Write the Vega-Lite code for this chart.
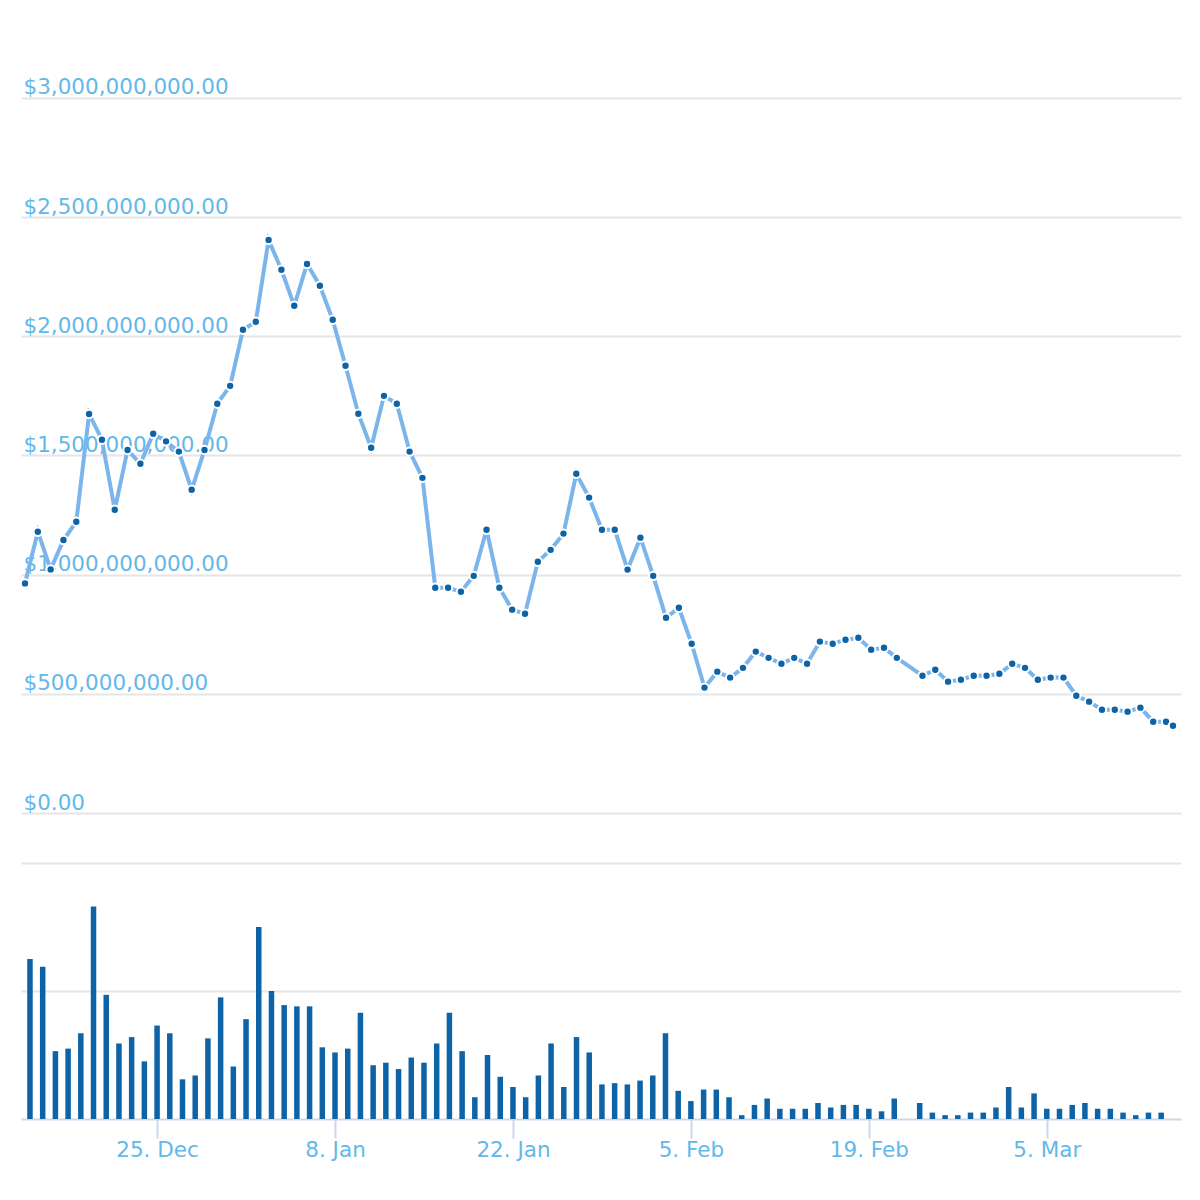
{
  "$schema": "https://vega.github.io/schema/vega-lite/v6.json",
  "description": "Market cap line with daily volume bars underneath, Dec 2017 to Mar 2018.",
  "background": "white",
  "padding": {"left": 16, "top": 13, "right": 20, "bottom": 0},
  "spacing": 49,
  "config": {
    "view": {"stroke": null},
    "axis": {
      "labelFont": "DejaVu Sans",
      "labelColor": "#62b8ea",
      "labelFontSize": 21.5,
      "labelLimit": 0,
      "gridColor": "#e6e6e6",
      "gridWidth": 2,
      "title": null
    }
  },
  "datasets": {
    "cap": [
      {"date": "2017-12-15T00:00:00Z", "cap": 963000000},
      {"date": "2017-12-16T00:00:00Z", "cap": 1180000000},
      {"date": "2017-12-17T00:00:00Z", "cap": 1022000000},
      {"date": "2017-12-18T00:00:00Z", "cap": 1145000000},
      {"date": "2017-12-19T00:00:00Z", "cap": 1222000000},
      {"date": "2017-12-20T00:00:00Z", "cap": 1674000000},
      {"date": "2017-12-21T00:00:00Z", "cap": 1566000000},
      {"date": "2017-12-22T00:00:00Z", "cap": 1272000000},
      {"date": "2017-12-23T00:00:00Z", "cap": 1523000000},
      {"date": "2017-12-24T00:00:00Z", "cap": 1465000000},
      {"date": "2017-12-25T00:00:00Z", "cap": 1591000000},
      {"date": "2017-12-26T00:00:00Z", "cap": 1559000000},
      {"date": "2017-12-27T00:00:00Z", "cap": 1516000000},
      {"date": "2017-12-28T00:00:00Z", "cap": 1356000000},
      {"date": "2017-12-29T00:00:00Z", "cap": 1523000000},
      {"date": "2017-12-30T00:00:00Z", "cap": 1717000000},
      {"date": "2017-12-31T00:00:00Z", "cap": 1792000000},
      {"date": "2018-01-01T00:00:00Z", "cap": 2027000000},
      {"date": "2018-01-02T00:00:00Z", "cap": 2061000000},
      {"date": "2018-01-03T00:00:00Z", "cap": 2404000000},
      {"date": "2018-01-04T00:00:00Z", "cap": 2279000000},
      {"date": "2018-01-05T00:00:00Z", "cap": 2128000000},
      {"date": "2018-01-06T00:00:00Z", "cap": 2303000000},
      {"date": "2018-01-07T00:00:00Z", "cap": 2212000000},
      {"date": "2018-01-08T00:00:00Z", "cap": 2069000000},
      {"date": "2018-01-09T00:00:00Z", "cap": 1876000000},
      {"date": "2018-01-10T00:00:00Z", "cap": 1675000000},
      {"date": "2018-01-11T00:00:00Z", "cap": 1532000000},
      {"date": "2018-01-12T00:00:00Z", "cap": 1750000000},
      {"date": "2018-01-13T00:00:00Z", "cap": 1717000000},
      {"date": "2018-01-14T00:00:00Z", "cap": 1516000000},
      {"date": "2018-01-15T00:00:00Z", "cap": 1406000000},
      {"date": "2018-01-16T00:00:00Z", "cap": 945000000},
      {"date": "2018-01-17T00:00:00Z", "cap": 945000000},
      {"date": "2018-01-18T00:00:00Z", "cap": 928000000},
      {"date": "2018-01-19T00:00:00Z", "cap": 995000000},
      {"date": "2018-01-20T00:00:00Z", "cap": 1188000000},
      {"date": "2018-01-21T00:00:00Z", "cap": 945000000},
      {"date": "2018-01-22T00:00:00Z", "cap": 853000000},
      {"date": "2018-01-23T00:00:00Z", "cap": 836000000},
      {"date": "2018-01-24T00:00:00Z", "cap": 1054000000},
      {"date": "2018-01-25T00:00:00Z", "cap": 1104000000},
      {"date": "2018-01-26T00:00:00Z", "cap": 1172000000},
      {"date": "2018-01-27T00:00:00Z", "cap": 1423000000},
      {"date": "2018-01-28T00:00:00Z", "cap": 1323000000},
      {"date": "2018-01-29T00:00:00Z", "cap": 1188000000},
      {"date": "2018-01-30T00:00:00Z", "cap": 1188000000},
      {"date": "2018-01-31T00:00:00Z", "cap": 1021000000},
      {"date": "2018-02-01T00:00:00Z", "cap": 1155000000},
      {"date": "2018-02-02T00:00:00Z", "cap": 995000000},
      {"date": "2018-02-03T00:00:00Z", "cap": 819000000},
      {"date": "2018-02-04T00:00:00Z", "cap": 861000000},
      {"date": "2018-02-05T00:00:00Z", "cap": 710000000},
      {"date": "2018-02-06T00:00:00Z", "cap": 526000000},
      {"date": "2018-02-07T00:00:00Z", "cap": 593000000},
      {"date": "2018-02-08T00:00:00Z", "cap": 568000000},
      {"date": "2018-02-09T00:00:00Z", "cap": 609000000},
      {"date": "2018-02-10T00:00:00Z", "cap": 677000000},
      {"date": "2018-02-11T00:00:00Z", "cap": 651000000},
      {"date": "2018-02-12T00:00:00Z", "cap": 626000000},
      {"date": "2018-02-13T00:00:00Z", "cap": 651000000},
      {"date": "2018-02-14T00:00:00Z", "cap": 626000000},
      {"date": "2018-02-15T00:00:00Z", "cap": 719000000},
      {"date": "2018-02-16T00:00:00Z", "cap": 710000000},
      {"date": "2018-02-17T00:00:00Z", "cap": 727000000},
      {"date": "2018-02-18T00:00:00Z", "cap": 735000000},
      {"date": "2018-02-19T00:00:00Z", "cap": 685000000},
      {"date": "2018-02-20T00:00:00Z", "cap": 693000000},
      {"date": "2018-02-21T00:00:00Z", "cap": 651000000},
      {"date": "2018-02-23T00:00:00Z", "cap": 576000000},
      {"date": "2018-02-24T00:00:00Z", "cap": 601000000},
      {"date": "2018-02-25T00:00:00Z", "cap": 551000000},
      {"date": "2018-02-26T00:00:00Z", "cap": 559000000},
      {"date": "2018-02-27T00:00:00Z", "cap": 576000000},
      {"date": "2018-02-28T00:00:00Z", "cap": 576000000},
      {"date": "2018-03-01T00:00:00Z", "cap": 584000000},
      {"date": "2018-03-02T00:00:00Z", "cap": 626000000},
      {"date": "2018-03-03T00:00:00Z", "cap": 609000000},
      {"date": "2018-03-04T00:00:00Z", "cap": 559000000},
      {"date": "2018-03-05T00:00:00Z", "cap": 568000000},
      {"date": "2018-03-06T00:00:00Z", "cap": 568000000},
      {"date": "2018-03-07T00:00:00Z", "cap": 492000000},
      {"date": "2018-03-08T00:00:00Z", "cap": 467000000},
      {"date": "2018-03-09T00:00:00Z", "cap": 433000000},
      {"date": "2018-03-10T00:00:00Z", "cap": 433000000},
      {"date": "2018-03-11T00:00:00Z", "cap": 425000000},
      {"date": "2018-03-12T00:00:00Z", "cap": 442000000},
      {"date": "2018-03-13T00:00:00Z", "cap": 383000000},
      {"date": "2018-03-14T00:00:00Z", "cap": 383000000},
      {"date": "2018-03-14T13:00:00Z", "cap": 366000000}
    ],
    "volume": [
      {"date": "2017-12-15T00:00:00Z", "vol": 125},
      {"date": "2017-12-16T00:00:00Z", "vol": 119},
      {"date": "2017-12-17T00:00:00Z", "vol": 53},
      {"date": "2017-12-18T00:00:00Z", "vol": 55},
      {"date": "2017-12-19T00:00:00Z", "vol": 67},
      {"date": "2017-12-20T00:00:00Z", "vol": 166},
      {"date": "2017-12-21T00:00:00Z", "vol": 97},
      {"date": "2017-12-22T00:00:00Z", "vol": 59},
      {"date": "2017-12-23T00:00:00Z", "vol": 64},
      {"date": "2017-12-24T00:00:00Z", "vol": 45},
      {"date": "2017-12-25T00:00:00Z", "vol": 73},
      {"date": "2017-12-26T00:00:00Z", "vol": 67},
      {"date": "2017-12-27T00:00:00Z", "vol": 31},
      {"date": "2017-12-28T00:00:00Z", "vol": 34},
      {"date": "2017-12-29T00:00:00Z", "vol": 63},
      {"date": "2017-12-30T00:00:00Z", "vol": 95},
      {"date": "2017-12-31T00:00:00Z", "vol": 41},
      {"date": "2018-01-01T00:00:00Z", "vol": 78},
      {"date": "2018-01-02T00:00:00Z", "vol": 150},
      {"date": "2018-01-03T00:00:00Z", "vol": 100},
      {"date": "2018-01-04T00:00:00Z", "vol": 89},
      {"date": "2018-01-05T00:00:00Z", "vol": 88},
      {"date": "2018-01-06T00:00:00Z", "vol": 88},
      {"date": "2018-01-07T00:00:00Z", "vol": 56},
      {"date": "2018-01-08T00:00:00Z", "vol": 52},
      {"date": "2018-01-09T00:00:00Z", "vol": 55},
      {"date": "2018-01-10T00:00:00Z", "vol": 83},
      {"date": "2018-01-11T00:00:00Z", "vol": 42},
      {"date": "2018-01-12T00:00:00Z", "vol": 44},
      {"date": "2018-01-13T00:00:00Z", "vol": 39},
      {"date": "2018-01-14T00:00:00Z", "vol": 48},
      {"date": "2018-01-15T00:00:00Z", "vol": 44},
      {"date": "2018-01-16T00:00:00Z", "vol": 59},
      {"date": "2018-01-17T00:00:00Z", "vol": 83},
      {"date": "2018-01-18T00:00:00Z", "vol": 53},
      {"date": "2018-01-19T00:00:00Z", "vol": 17},
      {"date": "2018-01-20T00:00:00Z", "vol": 50},
      {"date": "2018-01-21T00:00:00Z", "vol": 33},
      {"date": "2018-01-22T00:00:00Z", "vol": 25},
      {"date": "2018-01-23T00:00:00Z", "vol": 17},
      {"date": "2018-01-24T00:00:00Z", "vol": 34},
      {"date": "2018-01-25T00:00:00Z", "vol": 59},
      {"date": "2018-01-26T00:00:00Z", "vol": 25},
      {"date": "2018-01-27T00:00:00Z", "vol": 64},
      {"date": "2018-01-28T00:00:00Z", "vol": 52},
      {"date": "2018-01-29T00:00:00Z", "vol": 27},
      {"date": "2018-01-30T00:00:00Z", "vol": 28},
      {"date": "2018-01-31T00:00:00Z", "vol": 27},
      {"date": "2018-02-01T00:00:00Z", "vol": 30},
      {"date": "2018-02-02T00:00:00Z", "vol": 34},
      {"date": "2018-02-03T00:00:00Z", "vol": 67},
      {"date": "2018-02-04T00:00:00Z", "vol": 22},
      {"date": "2018-02-05T00:00:00Z", "vol": 14},
      {"date": "2018-02-06T00:00:00Z", "vol": 23},
      {"date": "2018-02-07T00:00:00Z", "vol": 23},
      {"date": "2018-02-08T00:00:00Z", "vol": 17},
      {"date": "2018-02-09T00:00:00Z", "vol": 3},
      {"date": "2018-02-10T00:00:00Z", "vol": 11},
      {"date": "2018-02-11T00:00:00Z", "vol": 16},
      {"date": "2018-02-12T00:00:00Z", "vol": 8},
      {"date": "2018-02-13T00:00:00Z", "vol": 8},
      {"date": "2018-02-14T00:00:00Z", "vol": 8},
      {"date": "2018-02-15T00:00:00Z", "vol": 12.5},
      {"date": "2018-02-16T00:00:00Z", "vol": 9},
      {"date": "2018-02-17T00:00:00Z", "vol": 11},
      {"date": "2018-02-18T00:00:00Z", "vol": 11},
      {"date": "2018-02-19T00:00:00Z", "vol": 8},
      {"date": "2018-02-20T00:00:00Z", "vol": 6},
      {"date": "2018-02-21T00:00:00Z", "vol": 16},
      {"date": "2018-02-23T00:00:00Z", "vol": 12.5},
      {"date": "2018-02-24T00:00:00Z", "vol": 5},
      {"date": "2018-02-25T00:00:00Z", "vol": 3},
      {"date": "2018-02-26T00:00:00Z", "vol": 3},
      {"date": "2018-02-27T00:00:00Z", "vol": 5},
      {"date": "2018-02-28T00:00:00Z", "vol": 5},
      {"date": "2018-03-01T00:00:00Z", "vol": 9},
      {"date": "2018-03-02T00:00:00Z", "vol": 25},
      {"date": "2018-03-03T00:00:00Z", "vol": 9},
      {"date": "2018-03-04T00:00:00Z", "vol": 20},
      {"date": "2018-03-05T00:00:00Z", "vol": 8},
      {"date": "2018-03-06T00:00:00Z", "vol": 8},
      {"date": "2018-03-07T00:00:00Z", "vol": 11},
      {"date": "2018-03-08T00:00:00Z", "vol": 12.5},
      {"date": "2018-03-09T00:00:00Z", "vol": 8},
      {"date": "2018-03-10T00:00:00Z", "vol": 8},
      {"date": "2018-03-11T00:00:00Z", "vol": 5},
      {"date": "2018-03-12T00:00:00Z", "vol": 3},
      {"date": "2018-03-13T00:00:00Z", "vol": 5},
      {"date": "2018-03-14T00:00:00Z", "vol": 5}
    ]
  },
  "vconcat": [
    {
      "width": 1160,
      "height": 800,
      "data": {"name": "cap"},
      "encoding": {
        "x": {
          "field": "date",
          "type": "temporal",
          "scale": {
            "type": "utc",
            "domain": [
              {"year": 2017, "month": 12, "date": 14, "hours": 16, "minutes": 30, "utc": true},
              {"year": 2018, "month": 3, "date": 15, "hours": 4, "utc": true}
            ]
          },
          "axis": null
        },
        "y": {
          "field": "cap",
          "type": "quantitative",
          "scale": {"domain": [0, 3356000000], "nice": false},
          "axis": {
            "values": [0, 500000000, 1000000000, 1500000000, 2000000000, 2500000000, 3000000000],
            "format": "$,.2f",
            "grid": true,
            "domain": false,
            "ticks": false,
            "labelAlign": "left",
            "labelPadding": -2,
            "labelBaseline": "alphabetic",
            "labelOffset": -4,
            "labelFlush": false,
            "labelOverlap": false
          }
        }
      },
      "layer": [
        {
          "mark": {"type": "line", "color": "#7cb5ec", "strokeWidth": 4}
        },
        {
          "mark": {
            "type": "point",
            "filled": true,
            "fill": "#0d63a5",
            "stroke": "white",
            "strokeWidth": 2,
            "size": 70,
            "opacity": 1
          }
        }
      ]
    },
    {
      "width": 1160,
      "height": 256,
      "data": {"name": "volume"},
      "mark": {"type": "bar", "color": "#0d63a5", "width": 5.5},
      "encoding": {
        "x": {
          "field": "date",
          "type": "temporal",
          "scale": {
            "type": "utc",
            "domain": [
              {"year": 2017, "month": 12, "date": 14, "hours": 16, "minutes": 30, "utc": true},
              {"year": 2018, "month": 3, "date": 15, "hours": 4, "utc": true}
            ]
          },
          "axis": {
            "values": [
              {"year": 2017, "month": 12, "date": 25, "utc": true},
              {"year": 2018, "month": 1, "date": 8, "utc": true},
              {"year": 2018, "month": 1, "date": 22, "utc": true},
              {"year": 2018, "month": 2, "date": 5, "utc": true},
              {"year": 2018, "month": 2, "date": 19, "utc": true},
              {"year": 2018, "month": 3, "date": 5, "utc": true}
            ],
            "format": "%-d. %b",
            "grid": false,
            "domainColor": "#ccd6eb",
            "domainWidth": 2,
            "tickColor": "#ccd6eb",
            "tickWidth": 2,
            "tickSize": 19,
            "labelPadding": 1,
            "labelFlush": false,
            "labelOverlap": false
          }
        },
        "y": {
          "field": "vol",
          "type": "quantitative",
          "scale": {"domain": [0, 200], "nice": false},
          "axis": {
            "values": [100, 200],
            "grid": true,
            "labels": false,
            "ticks": false,
            "domain": false
          }
        }
      }
    }
  ]
}
